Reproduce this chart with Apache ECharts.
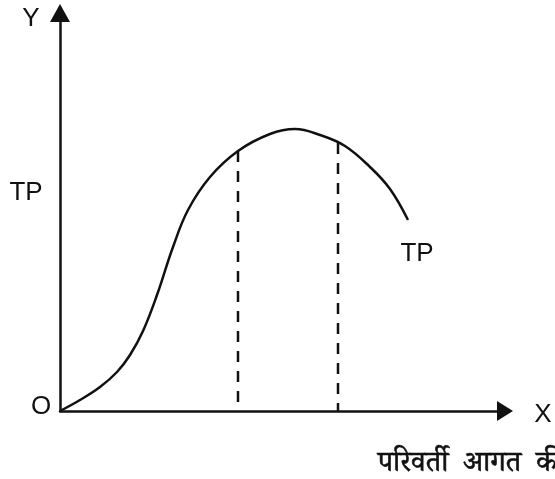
<!DOCTYPE html>
<html>
<head>
<meta charset="utf-8">
<script src="https://cdn.jsdelivr.net/npm/echarts@6/dist/echarts.min.js"></script>
<style>
  html, body { margin: 0; padding: 0; background: #fff; }
  #chart { width: 555px; height: 479px; }
</style>
</head>
<body>
<div id="chart"></div>
<script>
// कुल उत्पाद (TP) वक्र — परिवर्ती आगत की इकाइयाँ (x) बनाम कुल उत्पाद (y)
var inputUnits = [0, 20, 40, 57, 70, 83, 97, 113, 128, 150, 178, 210, 235, 260, 285, 310, 330, 348];
var totalProduct = [0, 11, 24, 39, 56, 80, 116, 164, 201, 234, 260, 277, 282, 276, 265, 244, 222, 191];
// dashed guides: input level and TP at that level
var guideX = [178, 278];
var guideY = [260, 268];
var xMax = 445, yMax = 398;

var tpData = inputUnits.map(function (x, i) { return [x, totalProduct[i]]; });

var ink = '#111';
var latin = { fontFamily: 'Liberation Sans, Arial, sans-serif', fontSize: 26, fill: ink };

var series = [{
  type: 'line',
  data: tpData,
  smooth: 0.4,
  showSymbol: false,
  lineStyle: { color: ink, width: 2.5 },
  z: 3
}];
guideX.forEach(function (gx, i) {
  series.push({
    type: 'line',
    data: [[gx, guideY[i]], [gx, 0]],
    showSymbol: false,
    lineStyle: { color: ink, width: 2.5, type: [11, 9] },
    z: 2
  });
});

var chart = echarts.init(document.getElementById('chart'));
chart.setOption({
  backgroundColor: '#fff',
  animation: false,
  grid: { left: 60, right: 50, top: 13, bottom: 68 },
  xAxis: {
    type: 'value', min: 0, max: xMax,
    axisLine: { lineStyle: { color: ink, width: 2.5 }, symbol: ['none', 'triangle'], symbolSize: [20, 16] },
    axisTick: { show: false }, axisLabel: { show: false }, splitLine: { show: false }
  },
  yAxis: {
    type: 'value', min: 0, max: yMax,
    axisLine: { show: true, lineStyle: { color: ink, width: 2.5 }, symbol: ['none', 'triangle'], symbolSize: [20, 18] },
    axisTick: { show: false }, axisLabel: { show: false }, splitLine: { show: false }
  },
  series: series,
  graphic: [
    { type: 'text', x: 31, y: 19, style: Object.assign({ text: 'Y', align: 'center', verticalAlign: 'middle' }, latin) },
    { type: 'text', x: 26, y: 193, style: Object.assign({ text: 'TP', align: 'center', verticalAlign: 'middle' }, latin) },
    { type: 'text', x: 41, y: 407, style: Object.assign({ text: 'O', align: 'center', verticalAlign: 'middle' }, latin) },
    { type: 'text', x: 543, y: 415, style: Object.assign({ text: 'X', align: 'center', verticalAlign: 'middle' }, latin) },
    { type: 'text', x: 417, y: 254, style: Object.assign({ text: 'TP', align: 'center', verticalAlign: 'middle' }, latin) },
    { type: 'text', x: 378, y: 468, style: {
      text: 'परिवर्ती  आगत  की  इकाइयाँ',
      align: 'left', verticalAlign: 'middle',
      fontFamily: 'Noto Serif Devanagari, Noto Sans Devanagari, Lohit Devanagari, FreeSerif, serif',
      fontSize: 29, fill: ink, stroke: ink, lineWidth: 0.6
    } }
  ]
});
</script>
</body>
</html>
